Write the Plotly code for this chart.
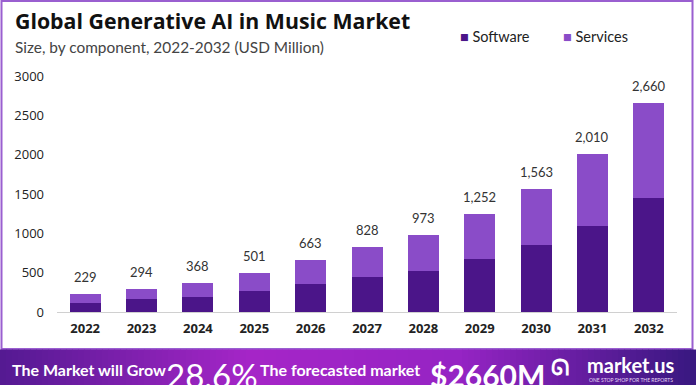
import plotly.graph_objects as go

years = ["2022", "2023", "2024", "2025", "2026", "2027", "2028", "2029", "2030", "2031", "2032"]
software = [120, 161, 196, 267, 356, 445, 526, 679, 848, 1099, 1454]
services = [109, 133, 172, 234, 307, 383, 447, 573, 715, 911, 1206]
totals = [229, 294, 368, 501, 663, 828, 973, 1252, 1563, 2010, 2660]
y_ticks = [0, 500, 1000, 1500, 2000, 2500, 3000]

C_SOFT = "#4b1589"
C_SERV = "#8a4cc8"

W, H = 696, 385
L, R, T, B = 57, 19, 76, 73
PW, PH = W - L - R, H - T - B

def px(x):
    return (x - L) / PW

def py(y):
    return (H - B - y) / PH

fig = go.Figure()
fig.add_trace(go.Bar(x=years, y=software, name="Software", marker=dict(color=C_SOFT, line=dict(width=0)),
                     showlegend=False))
fig.add_trace(go.Bar(x=years, y=services, name="Services", marker=dict(color=C_SERV, line=dict(width=0)),
                     showlegend=False))

annotations = []
for i, t in enumerate(totals):
    annotations.append(dict(x=i, y=t, xref="x", yref="y", text=f"{t:,}", showarrow=False,
                            yanchor="bottom", yshift=7,
                            font=dict(family="Lato", size=13, color="#333333")))

# Title & subtitle
annotations.append(dict(x=px(13), y=py(21), xref="paper", yref="paper", xanchor="left", yanchor="middle",
                        text="<b>Global Generative AI in Music Market</b>", showarrow=False,
                        font=dict(family="Open Sans", size=21.3, color="#111111")))
annotations.append(dict(x=px(13), y=py(47), xref="paper", yref="paper", xanchor="left", yanchor="middle",
                        text="Size, by component, 2022-2032 (USD Million)", showarrow=False,
                        font=dict(family="Lato", size=15.4, color="#444444")))

# Legend (as annotations)
for name, col, x_sq in [("Software", C_SOFT, 458), ("Services", C_SERV, 561)]:
    annotations.append(dict(x=px(x_sq), y=py(36), xref="paper", yref="paper", xanchor="left", yanchor="middle",
                            text=f"<span style='color:{col}'>■</span> {name}", showarrow=False,
                            font=dict(family="Lato", size=14.5, color="#222222")))

shapes = []
# Frame border
shapes.append(dict(type="rect", xref="paper", yref="paper", x0=px(1.5), x1=px(692.5), y0=py(349), y1=py(1),
                   line=dict(color="#9a5fd0", width=2), fillcolor="rgba(0,0,0,0)", layer="below"))

# Banner gradient strips
stops = [(0, (84, 26, 146)), (250, (166, 38, 200)), (460, (150, 36, 196)), (696, (56, 24, 128))]
n = 116
for i in range(n):
    x0 = W * i / n
    x1 = W * (i + 1) / n + 0.6
    xm = (x0 + x1) / 2
    for j in range(len(stops) - 1):
        if stops[j][0] <= xm <= stops[j + 1][0]:
            a, ca = stops[j]
            b, cb = stops[j + 1]
            f = (xm - a) / (b - a)
            c = tuple(int(ca[k] + (cb[k] - ca[k]) * f) for k in range(3))
            break
    shapes.append(dict(type="rect", xref="paper", yref="paper", x0=px(x0), x1=px(x1), y0=py(H + 2), y1=py(349.5),
                       line=dict(width=0), fillcolor=f"rgb{c}", layer="above"))

banner = [
    dict(x=px(10), y=py(369), text="<b>The Market will Grow</b>", xanchor="left"),
    dict(x=px(10), y=py(389), text="<b>At the CAGR of:</b>", xanchor="left"),
    dict(x=px(258), y=py(369), text="<b>The forecasted market</b>", xanchor="left"),
    dict(x=px(258), y=py(389), text="<b>size for 2032 in USD:</b>", xanchor="left"),
]
for a in banner:
    a.update(xref="paper", yref="paper", yanchor="middle", showarrow=False,
             font=dict(family="Lato", size=16, color="white"))
annotations += banner
annotations.append(dict(x=px(164), y=py(375), xref="paper", yref="paper", xanchor="left", yanchor="middle",
                        text="28.6%", showarrow=False, font=dict(family="Lato", size=33, color="white")))
annotations.append(dict(x=px(428), y=py(375), xref="paper", yref="paper", xanchor="left", yanchor="middle",
                        text="<b>$2660M</b>", showarrow=False, font=dict(family="Lato", size=30, color="white")))
annotations.append(dict(x=px(549), y=py(367), xref="paper", yref="paper", xanchor="left", yanchor="middle",
                        text="<b>ᘏ</b>", showarrow=False, font=dict(family="DejaVu Sans", size=22, color="white")))
annotations.append(dict(x=px(585), y=py(365), xref="paper", yref="paper", xanchor="left", yanchor="middle",
                        text="<b>market.us</b>", showarrow=False, font=dict(family="Lato", size=20, color="white")))
annotations.append(dict(x=px(587), y=py(380), xref="paper", yref="paper", xanchor="left", yanchor="middle",
                        text="ONE STOP SHOP FOR THE REPORTS", showarrow=False, font=dict(family="Lato", size=5, color="#e6d6f5")))

fig.update_layout(
    width=W, height=H,
    margin=dict(l=L, r=R, t=T, b=B, pad=0, autoexpand=False),
    barmode="stack",
    bargap=0.45,
    plot_bgcolor="white", paper_bgcolor="white",
    showlegend=False,
    annotations=annotations,
    shapes=shapes,
    xaxis=dict(type="category", range=[-0.5, len(years) - 0.5], showgrid=False, showline=True,
               linecolor="#d0d0d0", linewidth=1, ticks="",
               tickfont=dict(family="Open Sans", size=13, color="#222222"), ticklabelstandoff=4,
               tickprefix="<b>", ticksuffix="</b>"),
    yaxis=dict(range=[0, 3000], tickvals=y_ticks, showgrid=False, zeroline=False, showline=False,
               tickfont=dict(family="Open Sans", size=13, color="#222222"), ticklabelstandoff=12,
               tickprefix="<b>", ticksuffix="</b>"),
)

fig.write_html("out.html")
